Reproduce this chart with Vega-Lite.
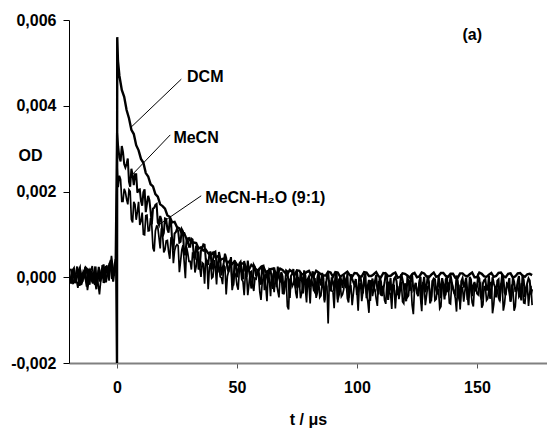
{
"$schema":"https://vega.github.io/schema/vega-lite/v6.json",
"width":478,"height":343,
"autosize":{"type":"none"},
"padding":{"left":69,"top":20,"right":0,"bottom":65},
"config":{"font":"Liberation Sans","view":{"stroke":null},"axis":{"grid":false}},
"datasets":{
"traces":[
{"s":"DCM","t":-20,"v":0.00008},{"s":"DCM","t":-19,"v":-0.00012},{"s":"DCM","t":-18,"v":0.0002},{"s":"DCM","t":-17,"v":-0.00005},{"s":"DCM","t":-16,"v":0.00015},{"s":"DCM","t":-15,"v":-0.00018},{"s":"DCM","t":-14,"v":0.0001},{"s":"DCM","t":-13,"v":0.00022},{"s":"DCM","t":-12,"v":-0.00008},{"s":"DCM","t":-11,"v":0.00014},{"s":"DCM","t":-10,"v":-0.00015},{"s":"DCM","t":-9,"v":0.00025},{"s":"DCM","t":-8,"v":0.00002},{"s":"DCM","t":-7,"v":-0.0001},{"s":"DCM","t":-6,"v":0.00028},{"s":"DCM","t":-5,"v":-0.00006},{"s":"DCM","t":-4,"v":0.00018},{"s":"DCM","t":-3,"v":0.00032},{"s":"DCM","t":-2,"v":-0.00004},{"s":"DCM","t":-1,"v":0.00026},{"s":"DCM","t":-0.3,"v":0.0001},
{"s":"DCM","t":-19.5,"v":-0.0001},{"s":"DCM","t":-18.5,"v":0.00016},{"s":"DCM","t":-17.5,"v":-0.00014},{"s":"DCM","t":-16.5,"v":0.00006},{"s":"DCM","t":-15.5,"v":0.00021},{"s":"DCM","t":-14.5,"v":-0.00009},{"s":"DCM","t":-13.5,"v":0.00003},{"s":"DCM","t":-12.5,"v":0.00019},{"s":"DCM","t":-11.5,"v":-0.00017},{"s":"DCM","t":-10.5,"v":0.00009},{"s":"DCM","t":-9.5,"v":0.00004},{"s":"DCM","t":-8.5,"v":-0.00021},{"s":"DCM","t":-7.5,"v":0.00017},{"s":"DCM","t":-6.5,"v":0.00001},{"s":"DCM","t":-5.5,"v":-0.00013},{"s":"DCM","t":-4.5,"v":0.00026},{"s":"DCM","t":-3.5,"v":0.00005},{"s":"DCM","t":-2.5,"v":0.00035},{"s":"DCM","t":-1.5,"v":0.00008},{"s":"DCM","t":-0.5,"v":0.00042},
{"s":"DCM","t":0,"v":-0.002},{"s":"DCM","t":0.1,"v":0.0056},{"s":"DCM","t":0.4,"v":0.00505},
{"s":"DCM","t":1,"v":0.0047},{"s":"DCM","t":2,"v":0.00437},{"s":"DCM","t":3,"v":0.00421},{"s":"DCM","t":4,"v":0.0039},{"s":"DCM","t":5,"v":0.00371},{"s":"DCM","t":6,"v":0.00344},{"s":"DCM","t":7,"v":0.00334},{"s":"DCM","t":8,"v":0.00308},{"s":"DCM","t":9,"v":0.00296},{"s":"DCM","t":10,"v":0.00276},{"s":"DCM","t":11,"v":0.00267},{"s":"DCM","t":12,"v":0.00243},{"s":"DCM","t":13,"v":0.00235},{"s":"DCM","t":14,"v":0.00217},{"s":"DCM","t":15,"v":0.00212},{"s":"DCM","t":16,"v":0.00194},{"s":"DCM","t":17,"v":0.00188},{"s":"DCM","t":18,"v":0.0017},{"s":"DCM","t":19,"v":0.00166},{"s":"DCM","t":20,"v":0.0016},{"s":"DCM","t":21,"v":0.00144},{"s":"DCM","t":22,"v":0.00141},{"s":"DCM","t":23,"v":0.00128},{"s":"DCM","t":24,"v":0.00129},{"s":"DCM","t":25,"v":0.00117},{"s":"DCM","t":26,"v":0.00114},{"s":"DCM","t":27,"v":0.00103},{"s":"DCM","t":28,"v":0.00103},{"s":"DCM","t":29,"v":0.00089},{"s":"DCM","t":30,"v":0.00091},{"s":"DCM","t":31,"v":0.00081},{"s":"DCM","t":32,"v":0.00081},{"s":"DCM","t":33,"v":0.0008},{"s":"DCM","t":34,"v":0.00067},{"s":"DCM","t":35,"v":0.0007},{"s":"DCM","t":36,"v":0.00062},{"s":"DCM","t":37,"v":0.00064},{"s":"DCM","t":38,"v":0.00056},{"s":"DCM","t":39,"v":0.00051},{"s":"DCM","t":40,"v":0.00057},{"s":"DCM","t":41,"v":0.00047},{"s":"DCM","t":42,"v":0.00049},{"s":"DCM","t":43,"v":0.0004},{"s":"DCM","t":44,"v":0.00043},{"s":"DCM","t":45,"v":0.00044},{"s":"DCM","t":46,"v":0.00033},{"s":"DCM","t":47,"v":0.00038},{"s":"DCM","t":48,"v":0.00031},{"s":"DCM","t":49,"v":0.00037},{"s":"DCM","t":50,"v":0.0003},
{"s":"DCM","t":52,"v":0.00032},{"s":"DCM","t":54,"v":0.0002},{"s":"DCM","t":56,"v":0.00029},{"s":"DCM","t":58,"v":0.00018},{"s":"DCM","t":60,"v":0.00024},{"s":"DCM","t":62,"v":0.00012},{"s":"DCM","t":64,"v":0.00019},{"s":"DCM","t":66,"v":0.00011},{"s":"DCM","t":68,"v":0.0002},{"s":"DCM","t":70,"v":0.00011},{"s":"DCM","t":72,"v":0.00017},{"s":"DCM","t":74,"v":0.00005},{"s":"DCM","t":76,"v":0.00015},{"s":"DCM","t":78,"v":0.00007},{"s":"DCM","t":80,"v":0.00015},{"s":"DCM","t":82,"v":0.00004},{"s":"DCM","t":84,"v":0.00011},{"s":"DCM","t":86,"v":0.00004},{"s":"DCM","t":88,"v":0.00013},{"s":"DCM","t":90,"v":0.00001},{"s":"DCM","t":92,"v":0.00011},{"s":"DCM","t":94,"v":0.00005},{"s":"DCM","t":96,"v":0.00013},{"s":"DCM","t":98,"v":0.00001},{"s":"DCM","t":100,"v":0.00009},{"s":"DCM","t":102,"v":0.00002},{"s":"DCM","t":104,"v":0.00011},{"s":"DCM","t":106,"v":0.00003},{"s":"DCM","t":108,"v":0.00012},{"s":"DCM","t":110,"v":0},{"s":"DCM","t":112,"v":0.00009},{"s":"DCM","t":114,"v":0.00003},{"s":"DCM","t":116,"v":0.00011},{"s":"DCM","t":118,"v":0.00001},{"s":"DCM","t":120,"v":0.00008},{"s":"DCM","t":122,"v":-0.00001},{"s":"DCM","t":124,"v":0.0001},{"s":"DCM","t":126,"v":0.00002},{"s":"DCM","t":128,"v":0.00009},{"s":"DCM","t":130,"v":0},{"s":"DCM","t":132,"v":0.00011},{"s":"DCM","t":134,"v":0.00003},{"s":"DCM","t":136,"v":0.0001},{"s":"DCM","t":138,"v":0.00001},{"s":"DCM","t":140,"v":0.00008},{"s":"DCM","t":142,"v":-0.00001},{"s":"DCM","t":144,"v":0.00009},{"s":"DCM","t":146,"v":0.00002},{"s":"DCM","t":148,"v":0.00011},{"s":"DCM","t":150,"v":0},{"s":"DCM","t":152,"v":0.00008},{"s":"DCM","t":154,"v":0.00001},{"s":"DCM","t":156,"v":0.0001},{"s":"DCM","t":158,"v":0.00003},{"s":"DCM","t":160,"v":0.00011},{"s":"DCM","t":162,"v":0},{"s":"DCM","t":164,"v":0.00009},{"s":"DCM","t":166,"v":0.00002},{"s":"DCM","t":168,"v":0.0001},{"s":"DCM","t":170,"v":0.00001},{"s":"DCM","t":172,"v":0.00008},{"s":"DCM","t":173,"v":0.00005},
{"s":"DCM","t":51,"v":0.00026},{"s":"DCM","t":53,"v":0.00032},{"s":"DCM","t":55,"v":0.00018},{"s":"DCM","t":57,"v":0.00024},{"s":"DCM","t":59,"v":0.00016},{"s":"DCM","t":61,"v":0.00025},{"s":"DCM","t":63,"v":0.00015},{"s":"DCM","t":65,"v":0.0002},{"s":"DCM","t":67,"v":0.0001},{"s":"DCM","t":69,"v":0.00017},{"s":"DCM","t":71,"v":0.00007},{"s":"DCM","t":73,"v":0.00013},{"s":"DCM","t":75,"v":0.00016},{"s":"DCM","t":77,"v":0.00007},{"s":"DCM","t":79,"v":0.00012},{"s":"DCM","t":81,"v":0.00004},{"s":"DCM","t":83,"v":0.00015},{"s":"DCM","t":85,"v":0.00007},{"s":"DCM","t":87,"v":0.00004},{"s":"DCM","t":89,"v":0.00011},{"s":"DCM","t":91,"v":0.00012},{"s":"DCM","t":93,"v":0.00001},{"s":"DCM","t":95,"v":0.00009},{"s":"DCM","t":97,"v":0.00005},{"s":"DCM","t":99,"v":0.0001},{"s":"DCM","t":101,"v":0.00001},{"s":"DCM","t":103,"v":0.00012},{"s":"DCM","t":105,"v":0.00003},{"s":"DCM","t":107,"v":0.00007},{"s":"DCM","t":109,"v":0.00002},{"s":"DCM","t":111,"v":0.0001},{"s":"DCM","t":113,"v":0.00003},{"s":"DCM","t":115,"v":0.00008},{"s":"DCM","t":117,"v":-0.00001},{"s":"DCM","t":119,"v":0.00009},{"s":"DCM","t":121,"v":0.00004},{"s":"DCM","t":123,"v":0.00007},{"s":"DCM","t":125,"v":0},{"s":"DCM","t":127,"v":0.00011},{"s":"DCM","t":129,"v":0.00002},{"s":"DCM","t":131,"v":0.00006},{"s":"DCM","t":133,"v":0.00001},{"s":"DCM","t":135,"v":0.0001},{"s":"DCM","t":137,"v":0.00003},{"s":"DCM","t":139,"v":0.00008},{"s":"DCM","t":141,"v":-0.00001},{"s":"DCM","t":143,"v":0.00009},{"s":"DCM","t":145,"v":0.00004},{"s":"DCM","t":147,"v":0.00007},{"s":"DCM","t":149,"v":0},{"s":"DCM","t":151,"v":0.00011},{"s":"DCM","t":153,"v":0.00002},{"s":"DCM","t":155,"v":0.00006},{"s":"DCM","t":157,"v":0.00001},{"s":"DCM","t":159,"v":0.0001},{"s":"DCM","t":161,"v":0.00003},{"s":"DCM","t":163,"v":0.00008},{"s":"DCM","t":165,"v":-0.00001},{"s":"DCM","t":167,"v":0.00009},{"s":"DCM","t":169,"v":0.00004},{"s":"DCM","t":171,"v":0.00007},
{"s":"MeCN","t":-19.6,"v":-0.00015},{"s":"MeCN","t":-18.6,"v":0.00018},{"s":"MeCN","t":-17.6,"v":-0.00008},{"s":"MeCN","t":-16.6,"v":0.00025},{"s":"MeCN","t":-15.6,"v":-0.0002},{"s":"MeCN","t":-14.6,"v":0.00006},{"s":"MeCN","t":-13.6,"v":0.00015},{"s":"MeCN","t":-12.6,"v":-0.00022},{"s":"MeCN","t":-11.6,"v":0.0002},{"s":"MeCN","t":-10.6,"v":-0.00005},{"s":"MeCN","t":-9.6,"v":0.00012},{"s":"MeCN","t":-8.6,"v":-0.00028},{"s":"MeCN","t":-7.6,"v":0.00024},{"s":"MeCN","t":-6.6,"v":-0.00002},{"s":"MeCN","t":-5.6,"v":0.0003},{"s":"MeCN","t":-4.6,"v":-0.00012},{"s":"MeCN","t":-3.6,"v":0.00022},{"s":"MeCN","t":-2.6,"v":0.0004},{"s":"MeCN","t":-1.6,"v":-0.0001},{"s":"MeCN","t":-0.6,"v":0.00035},
{"s":"MeCN","t":0,"v":0.00338},{"s":"MeCN","t":0.5,"v":0.00305},
{"s":"MeCN","t":1,"v":0.00279},{"s":"MeCN","t":2,"v":0.00306},{"s":"MeCN","t":3,"v":0.00264},{"s":"MeCN","t":4,"v":0.00264},{"s":"MeCN","t":5,"v":0.00223},{"s":"MeCN","t":6,"v":0.00253},{"s":"MeCN","t":7,"v":0.00215},{"s":"MeCN","t":8,"v":0.0024},{"s":"MeCN","t":9,"v":0.00204},{"s":"MeCN","t":10,"v":0.00178},{"s":"MeCN","t":11,"v":0.00198},{"s":"MeCN","t":12,"v":0.00152},{"s":"MeCN","t":13,"v":0.0019},{"s":"MeCN","t":14,"v":0.00154},{"s":"MeCN","t":15,"v":0.0016},{"s":"MeCN","t":16,"v":0.00169},{"s":"MeCN","t":17,"v":0.00128},{"s":"MeCN","t":18,"v":0.00143},{"s":"MeCN","t":19,"v":0.00095},{"s":"MeCN","t":20,"v":0.00137},{"s":"MeCN","t":21,"v":0.00112},{"s":"MeCN","t":22,"v":0.00133},{"s":"MeCN","t":23,"v":0.00085},{"s":"MeCN","t":24,"v":0.00102},{"s":"MeCN","t":25,"v":0.00113},{"s":"MeCN","t":26,"v":0.00081},{"s":"MeCN","t":27,"v":0.00112},{"s":"MeCN","t":28,"v":0.00053},{"s":"MeCN","t":29,"v":0.00087},{"s":"MeCN","t":30,"v":0.00071},{"s":"MeCN","t":31,"v":0.0009},{"s":"MeCN","t":32,"v":0.0005},{"s":"MeCN","t":33,"v":0.00074},{"s":"MeCN","t":34,"v":0.00018},{"s":"MeCN","t":35,"v":0.00063},{"s":"MeCN","t":36,"v":0.00077},{"s":"MeCN","t":37,"v":0.00042},{"s":"MeCN","t":38,"v":0.00029},{"s":"MeCN","t":39,"v":0.0006},{"s":"MeCN","t":40,"v":0.0004},{"s":"MeCN","t":41,"v":0.0006},{"s":"MeCN","t":42,"v":0.00011},{"s":"MeCN","t":43,"v":0.00045},{"s":"MeCN","t":44,"v":0.0002},{"s":"MeCN","t":45,"v":0.00055},{"s":"MeCN","t":46,"v":0.00021},{"s":"MeCN","t":47,"v":0.00031},{"s":"MeCN","t":48,"v":-0.00008},{"s":"MeCN","t":49,"v":0.00039},{"s":"MeCN","t":50,"v":0},{"s":"MeCN","t":51,"v":0.00032},{"s":"MeCN","t":52,"v":0.00013},{"s":"MeCN","t":53,"v":0.00038},{"s":"MeCN","t":54,"v":0.00001},{"s":"MeCN","t":55,"v":0.00015},{"s":"MeCN","t":56,"v":-0.00026},{"s":"MeCN","t":57,"v":0.00029},{"s":"MeCN","t":58,"v":0.00002},{"s":"MeCN","t":59,"v":0.00017},{"s":"MeCN","t":60,"v":-0.00017},{"s":"MeCN","t":61,"v":0.00027},{"s":"MeCN","t":62,"v":0.00004},{"s":"MeCN","t":63,"v":-0.00012},{"s":"MeCN","t":64,"v":0.00017},{"s":"MeCN","t":65,"v":-0.00027},{"s":"MeCN","t":66,"v":0.00008},{"s":"MeCN","t":67,"v":0.00025},{"s":"MeCN","t":68,"v":-0.00012},{"s":"MeCN","t":69,"v":0.00002},{"s":"MeCN","t":70,"v":-0.00022},{"s":"MeCN","t":71,"v":0.00014},{"s":"MeCN","t":72,"v":-0.00048},{"s":"MeCN","t":73,"v":0.00008},{"s":"MeCN","t":74,"v":-0.00011},{"s":"MeCN","t":75,"v":0.00014},{"s":"MeCN","t":76,"v":-0.00024},{"s":"MeCN","t":77,"v":-0.00001},{"s":"MeCN","t":78,"v":0.00016},{"s":"MeCN","t":79,"v":-0.00034},{"s":"MeCN","t":80,"v":0.00002},{"s":"MeCN","t":81,"v":-0.00011},{"s":"MeCN","t":82,"v":0.00006},{"s":"MeCN","t":83,"v":-0.0004},{"s":"MeCN","t":84,"v":0.00011},{"s":"MeCN","t":85,"v":-0.00019},{"s":"MeCN","t":86,"v":-0.00002},{"s":"MeCN","t":87,"v":-0.00025},{"s":"MeCN","t":88,"v":0.00013},{"s":"MeCN","t":89,"v":-0.00033},{"s":"MeCN","t":90,"v":-0.00011},{"s":"MeCN","t":91,"v":0.00001},{"s":"MeCN","t":92,"v":-0.00052},{"s":"MeCN","t":93,"v":0.00003},{"s":"MeCN","t":94,"v":-0.00025},{"s":"MeCN","t":95,"v":-0.00007},{"s":"MeCN","t":96,"v":0.00009},{"s":"MeCN","t":97,"v":-0.00033},{"s":"MeCN","t":98,"v":-0.00003},{"s":"MeCN","t":99,"v":-0.00018},{"s":"MeCN","t":100,"v":-0.00041},{"s":"MeCN","t":101,"v":0.00003},{"s":"MeCN","t":102,"v":-0.00023},{"s":"MeCN","t":103,"v":-0.00001},{"s":"MeCN","t":104,"v":-0.00049},{"s":"MeCN","t":105,"v":-0.00006},{"s":"MeCN","t":106,"v":-0.00014},{"s":"MeCN","t":107,"v":-0.00033},{"s":"MeCN","t":108,"v":0.00005},{"s":"MeCN","t":109,"v":-0.0004},{"s":"MeCN","t":110,"v":-0.0001},{"s":"MeCN","t":111,"v":-0.00027},{"s":"MeCN","t":112,"v":0.00008},{"s":"MeCN","t":113,"v":-0.00053},{"s":"MeCN","t":114,"v":-0.00002},{"s":"MeCN","t":115,"v":-0.00023},{"s":"MeCN","t":116,"v":0.00001},{"s":"MeCN","t":117,"v":-0.00039},{"s":"MeCN","t":118,"v":-0.00014},{"s":"MeCN","t":119,"v":-0.00006},{"s":"MeCN","t":120,"v":-0.00046},{"s":"MeCN","t":121,"v":-0.00002},{"s":"MeCN","t":122,"v":-0.00032},{"s":"MeCN","t":123,"v":0.00004},{"s":"MeCN","t":124,"v":-0.00025},{"s":"MeCN","t":125,"v":-0.00037},{"s":"MeCN","t":126,"v":-0.00009},{"s":"MeCN","t":127,"v":-0.00063},{"s":"MeCN","t":128,"v":0.00001},{"s":"MeCN","t":129,"v":-0.00021},{"s":"MeCN","t":130,"v":-0.00011},{"s":"MeCN","t":131,"v":-0.00044},{"s":"MeCN","t":132,"v":-0.00003},{"s":"MeCN","t":133,"v":-0.0003},{"s":"MeCN","t":134,"v":0.00003},{"s":"MeCN","t":135,"v":-0.00049},{"s":"MeCN","t":136,"v":-0.00016},{"s":"MeCN","t":137,"v":-0.00005},{"s":"MeCN","t":138,"v":-0.00035},{"s":"MeCN","t":139,"v":0.00005},{"s":"MeCN","t":140,"v":-0.00026},{"s":"MeCN","t":141,"v":-0.0004},{"s":"MeCN","t":142,"v":-0.00009},{"s":"MeCN","t":143,"v":-0.00059},{"s":"MeCN","t":144,"v":-0.00002},{"s":"MeCN","t":145,"v":-0.00015},{"s":"MeCN","t":146,"v":-0.00034},{"s":"MeCN","t":147,"v":0.00001},{"s":"MeCN","t":148,"v":-0.00044},{"s":"MeCN","t":149,"v":-0.00011},{"s":"MeCN","t":150,"v":-0.00023},{"s":"MeCN","t":151,"v":-0.00003},{"s":"MeCN","t":152,"v":-0.00052},{"s":"MeCN","t":153,"v":-0.00007},{"s":"MeCN","t":154,"v":-0.00029},{"s":"MeCN","t":155,"v":0.00003},{"s":"MeCN","t":156,"v":-0.00039},{"s":"MeCN","t":157,"v":-0.00014},{"s":"MeCN","t":158,"v":-0.00047},{"s":"MeCN","t":159,"v":-0.00005},{"s":"MeCN","t":160,"v":-0.00021},{"s":"MeCN","t":161,"v":0},{"s":"MeCN","t":162,"v":-0.00042},{"s":"MeCN","t":163,"v":-0.00018},{"s":"MeCN","t":164,"v":-0.00057},{"s":"MeCN","t":165,"v":-0.00001},{"s":"MeCN","t":166,"v":-0.00032},{"s":"MeCN","t":167,"v":-0.0001},{"s":"MeCN","t":168,"v":-0.00035},{"s":"MeCN","t":169,"v":0.00005},{"s":"MeCN","t":170,"v":-0.00046},{"s":"MeCN","t":171,"v":-0.00013},{"s":"MeCN","t":172,"v":-0.00008},{"s":"MeCN","t":173,"v":-0.00028},
{"s":"MeCN","t":1.5,"v":0.0027},{"s":"MeCN","t":2.5,"v":0.00292},{"s":"MeCN","t":3.5,"v":0.00256},{"s":"MeCN","t":4.5,"v":0.00277},{"s":"MeCN","t":5.5,"v":0.00211},{"s":"MeCN","t":6.5,"v":0.00238},{"s":"MeCN","t":7.5,"v":0.0024},{"s":"MeCN","t":8.5,"v":0.00197},{"s":"MeCN","t":9.5,"v":0.00205},{"s":"MeCN","t":10.5,"v":0.00167},{"s":"MeCN","t":11.5,"v":0.00205},{"s":"MeCN","t":12.5,"v":0.00172},{"s":"MeCN","t":13.5,"v":0.0018},{"s":"MeCN","t":14.5,"v":0.00123},{"s":"MeCN","t":15.5,"v":0.00162},{"s":"MeCN","t":16.5,"v":0.00171},{"s":"MeCN","t":17.5,"v":0.00122},{"s":"MeCN","t":18.5,"v":0.00134},{"s":"MeCN","t":19.5,"v":0.00103},{"s":"MeCN","t":20.5,"v":0.00136},{"s":"MeCN","t":21.5,"v":0.00104},{"s":"MeCN","t":22.5,"v":0.00129},{"s":"MeCN","t":23.5,"v":0.00063},{"s":"MeCN","t":24.5,"v":0.00105},{"s":"MeCN","t":25.5,"v":0.00108},{"s":"MeCN","t":26.5,"v":0.00083},{"s":"MeCN","t":27.5,"v":0.00107},{"s":"MeCN","t":28.5,"v":0.00053},{"s":"MeCN","t":29.5,"v":0.00087},{"s":"MeCN","t":30.5,"v":0.00071},{"s":"MeCN","t":31.5,"v":0.00088},{"s":"MeCN","t":32.5,"v":0.00046},{"s":"MeCN","t":33.5,"v":0.00066},{"s":"MeCN","t":34.5,"v":0.00024},{"s":"MeCN","t":35.5,"v":0.00068},{"s":"MeCN","t":36.5,"v":0.00076},{"s":"MeCN","t":37.5,"v":0.00037},{"s":"MeCN","t":38.5,"v":0.00054},{"s":"MeCN","t":39.5,"v":0.00018},{"s":"MeCN","t":40.5,"v":0.00058},{"s":"MeCN","t":41.5,"v":0.0003},{"s":"MeCN","t":42.5,"v":0.00059},{"s":"MeCN","t":43.5,"v":0.00004},{"s":"MeCN","t":44.5,"v":0.00034},{"s":"MeCN","t":45.5,"v":0.00045},{"s":"MeCN","t":46.5,"v":0.00012},{"s":"MeCN","t":47.5,"v":0.00047},{"s":"MeCN","t":48.5,"v":-0.00019},{"s":"MeCN","t":49.5,"v":0.00033},{"s":"MeCN","t":50.5,"v":0.00017},{"s":"MeCN","t":51.5,"v":0.00036},{"s":"MeCN","t":52.5,"v":-0.00005},{"s":"MeCN","t":53.5,"v":0.00021},{"s":"MeCN","t":54.5,"v":0.00039},{"s":"MeCN","t":55.5,"v":0},{"s":"MeCN","t":56.5,"v":-0.00015},{"s":"MeCN","t":57.5,"v":0.00024},{"s":"MeCN","t":58.5,"v":0.00012},{"s":"MeCN","t":59.5,"v":-0.0001},{"s":"MeCN","t":60.5,"v":0.00026},{"s":"MeCN","t":61.5,"v":-0.0003},{"s":"MeCN","t":62.5,"v":0.00013},{"s":"MeCN","t":63.5,"v":0.00019},{"s":"MeCN","t":64.5,"v":-0.00004},{"s":"MeCN","t":65.5,"v":0.00023},{"s":"MeCN","t":66.5,"v":-0.00023},{"s":"MeCN","t":67.5,"v":0},{"s":"MeCN","t":68.5,"v":0.00012},{"s":"MeCN","t":69.5,"v":-0.0004},{"s":"MeCN","t":70.5,"v":0.00016},{"s":"MeCN","t":71.5,"v":-0.00013},{"s":"MeCN","t":72.5,"v":0.00003},{"s":"MeCN","t":73.5,"v":0.00019},{"s":"MeCN","t":74.5,"v":-0.00026},{"s":"MeCN","t":75.5,"v":-0.0001},{"s":"MeCN","t":76.5,"v":0.00011},{"s":"MeCN","t":77.5,"v":-0.00038},{"s":"MeCN","t":78.5,"v":0.00004},{"s":"MeCN","t":79.5,"v":-0.00004},{"s":"MeCN","t":80.5,"v":-0.00023},{"s":"MeCN","t":81.5,"v":0.00014},{"s":"MeCN","t":82.5,"v":-0.00035},{"s":"MeCN","t":83.5,"v":-0.00001},{"s":"MeCN","t":84.5,"v":-0.0001},{"s":"MeCN","t":85.5,"v":0.0001},{"s":"MeCN","t":86.5,"v":-0.00054},{"s":"MeCN","t":87.5,"v":0.00003},{"s":"MeCN","t":88.5,"v":-0.0002},{"s":"MeCN","t":89.5,"v":0},{"s":"MeCN","t":90.5,"v":-0.00032},{"s":"MeCN","t":91.5,"v":0.00013},{"s":"MeCN","t":92.5,"v":-0.00041},{"s":"MeCN","t":93.5,"v":-0.00008},{"s":"MeCN","t":94.5,"v":0.00005},{"s":"MeCN","t":95.5,"v":-0.00025},{"s":"MeCN","t":96.5,"v":-0.00048},{"s":"MeCN","t":97.5,"v":0.00007},{"s":"MeCN","t":98.5,"v":-0.00012},{"s":"MeCN","t":99.5,"v":-0.00004},{"s":"MeCN","t":100.5,"v":-0.00032},{"s":"MeCN","t":101.5,"v":0.00001},{"s":"MeCN","t":102.5,"v":-0.00038},{"s":"MeCN","t":103.5,"v":0.00009},{"s":"MeCN","t":104.5,"v":-0.00021},{"s":"MeCN","t":105.5,"v":-0.00055},{"s":"MeCN","t":106.5,"v":-0.00003},{"s":"MeCN","t":107.5,"v":-0.00009},{"s":"MeCN","t":108.5,"v":-0.0003},{"s":"MeCN","t":109.5,"v":0.00002},{"s":"MeCN","t":110.5,"v":-0.00044},{"s":"MeCN","t":111.5,"v":-0.00013},{"s":"MeCN","t":112.5,"v":0.00005},{"s":"MeCN","t":113.5,"v":-0.00025},{"s":"MeCN","t":114.5,"v":-0.00048},{"s":"MeCN","t":115.5,"v":-0.00003},{"s":"MeCN","t":116.5,"v":-0.00009},{"s":"MeCN","t":117.5,"v":-0.00037},{"s":"MeCN","t":118.5,"v":0.00007},{"s":"MeCN","t":119.5,"v":-0.00021},{"s":"MeCN","t":120.5,"v":-0.00056},{"s":"MeCN","t":121.5,"v":-0.00007},{"s":"MeCN","t":122.5,"v":-0.00001},{"s":"MeCN","t":123.5,"v":-0.0003},{"s":"MeCN","t":124.5,"v":-0.00013},{"s":"MeCN","t":125.5,"v":-0.00044},{"s":"MeCN","t":126.5,"v":0.00001},{"s":"MeCN","t":127.5,"v":-0.0002},{"s":"MeCN","t":128.5,"v":-0.00035},{"s":"MeCN","t":129.5,"v":0.00004},{"s":"MeCN","t":130.5,"v":-0.00061},{"s":"MeCN","t":131.5,"v":-0.00009},{"s":"MeCN","t":132.5,"v":-0.00005},{"s":"MeCN","t":133.5,"v":-0.0004},{"s":"MeCN","t":134.5,"v":-0.00016},{"s":"MeCN","t":135.5,"v":-0.00002},{"s":"MeCN","t":136.5,"v":-0.00052},{"s":"MeCN","t":137.5,"v":0.00002},{"s":"MeCN","t":138.5,"v":-0.00026},{"s":"MeCN","t":139.5,"v":-0.00011},{"s":"MeCN","t":140.5,"v":-0.00037},{"s":"MeCN","t":141.5,"v":0.00004},{"s":"MeCN","t":142.5,"v":-0.00048},{"s":"MeCN","t":143.5,"v":-0.00009},{"s":"MeCN","t":144.5,"v":-0.00024},{"s":"MeCN","t":145.5,"v":-0.00001},{"s":"MeCN","t":146.5,"v":-0.00065},{"s":"MeCN","t":147.5,"v":-0.00005},{"s":"MeCN","t":148.5,"v":-0.00019},{"s":"MeCN","t":149.5,"v":-0.00033},{"s":"MeCN","t":150.5,"v":0.00002},{"s":"MeCN","t":151.5,"v":-0.00044},{"s":"MeCN","t":152.5,"v":-0.00014},{"s":"MeCN","t":153.5,"v":-0.00004},{"s":"MeCN","t":154.5,"v":-0.00029},{"s":"MeCN","t":155.5,"v":-0.0005},{"s":"MeCN","t":156.5,"v":0},{"s":"MeCN","t":157.5,"v":-0.00022},{"s":"MeCN","t":158.5,"v":-0.00008},{"s":"MeCN","t":159.5,"v":-0.00056},{"s":"MeCN","t":160.5,"v":0.00005},{"s":"MeCN","t":161.5,"v":-0.00035},{"s":"MeCN","t":162.5,"v":-0.00015},{"s":"MeCN","t":163.5,"v":-0.00002},{"s":"MeCN","t":164.5,"v":-0.00042},{"s":"MeCN","t":165.5,"v":-0.00011},{"s":"MeCN","t":166.5,"v":-0.00031},{"s":"MeCN","t":167.5,"v":0.00003},{"s":"MeCN","t":168.5,"v":-0.00054},{"s":"MeCN","t":169.5,"v":-0.00007},{"s":"MeCN","t":170.5,"v":-0.00025},{"s":"MeCN","t":171.5,"v":-0.00003},{"s":"MeCN","t":172.5,"v":-0.0004},
{"s":"MeCN-H2O","t":-19.3,"v":0.0002},{"s":"MeCN-H2O","t":-18.3,"v":-0.00016},{"s":"MeCN-H2O","t":-17.3,"v":0.00005},{"s":"MeCN-H2O","t":-16.3,"v":-0.00025},{"s":"MeCN-H2O","t":-15.3,"v":0.00018},{"s":"MeCN-H2O","t":-14.3,"v":-0.0001},{"s":"MeCN-H2O","t":-13.3,"v":0.00024},{"s":"MeCN-H2O","t":-12.3,"v":-0.0003},{"s":"MeCN-H2O","t":-11.3,"v":0.00009},{"s":"MeCN-H2O","t":-10.3,"v":0.00026},{"s":"MeCN-H2O","t":-9.3,"v":-0.00018},{"s":"MeCN-H2O","t":-8.3,"v":0.00003},{"s":"MeCN-H2O","t":-7.3,"v":-0.0004},{"s":"MeCN-H2O","t":-6.3,"v":0.00021},{"s":"MeCN-H2O","t":-5.3,"v":-0.00012},{"s":"MeCN-H2O","t":-4.3,"v":0.00028},{"s":"MeCN-H2O","t":-3.3,"v":-0.00008},{"s":"MeCN-H2O","t":-2.3,"v":0.0005},{"s":"MeCN-H2O","t":-1.3,"v":0.00004},{"s":"MeCN-H2O","t":-0.3,"v":0.00038},
{"s":"MeCN-H2O","t":0,"v":0.00262},{"s":"MeCN-H2O","t":0.5,"v":0.0021},
{"s":"MeCN-H2O","t":1,"v":0.00237},{"s":"MeCN-H2O","t":2,"v":0.00177},{"s":"MeCN-H2O","t":3,"v":0.00206},{"s":"MeCN-H2O","t":4,"v":0.00182},{"s":"MeCN-H2O","t":5,"v":0.00204},{"s":"MeCN-H2O","t":6,"v":0.00135},{"s":"MeCN-H2O","t":7,"v":0.00176},{"s":"MeCN-H2O","t":8,"v":0.00134},{"s":"MeCN-H2O","t":9,"v":0.00176},{"s":"MeCN-H2O","t":10,"v":0.00131},{"s":"MeCN-H2O","t":11,"v":0.001},{"s":"MeCN-H2O","t":12,"v":0.00144},{"s":"MeCN-H2O","t":13,"v":0.00108},{"s":"MeCN-H2O","t":14,"v":0.00138},{"s":"MeCN-H2O","t":15,"v":0.00068},{"s":"MeCN-H2O","t":16,"v":0.00108},{"s":"MeCN-H2O","t":17,"v":0.00117},{"s":"MeCN-H2O","t":18,"v":0.00067},{"s":"MeCN-H2O","t":19,"v":0.00099},{"s":"MeCN-H2O","t":20,"v":0.00064},{"s":"MeCN-H2O","t":21,"v":0.00086},{"s":"MeCN-H2O","t":22,"v":0.00043},{"s":"MeCN-H2O","t":23,"v":0.0009},{"s":"MeCN-H2O","t":24,"v":0.00062},{"s":"MeCN-H2O","t":25,"v":0.00076},{"s":"MeCN-H2O","t":26,"v":0.00012},{"s":"MeCN-H2O","t":27,"v":0.00064},{"s":"MeCN-H2O","t":28,"v":0.00036},{"s":"MeCN-H2O","t":29,"v":0.0007},{"s":"MeCN-H2O","t":30,"v":0.00037},{"s":"MeCN-H2O","t":31,"v":0.00018},{"s":"MeCN-H2O","t":32,"v":0.00054},{"s":"MeCN-H2O","t":33,"v":0.00025},{"s":"MeCN-H2O","t":34,"v":0.00057},{"s":"MeCN-H2O","t":35,"v":0.00001},{"s":"MeCN-H2O","t":36,"v":0.00031},{"s":"MeCN-H2O","t":37,"v":0.00043},{"s":"MeCN-H2O","t":38,"v":-0.00028},{"s":"MeCN-H2O","t":39,"v":0.00033},{"s":"MeCN-H2O","t":40,"v":0.00001},{"s":"MeCN-H2O","t":41,"v":0.00022},{"s":"MeCN-H2O","t":42,"v":0.00035},{"s":"MeCN-H2O","t":43,"v":0.00001},{"s":"MeCN-H2O","t":44,"v":-0.00016},{"s":"MeCN-H2O","t":45,"v":0.00024},{"s":"MeCN-H2O","t":46,"v":0.00002},{"s":"MeCN-H2O","t":47,"v":0.00029},{"s":"MeCN-H2O","t":48,"v":-0.0003},{"s":"MeCN-H2O","t":49,"v":0.0001},{"s":"MeCN-H2O","t":50,"v":-0.00019},{"s":"MeCN-H2O","t":51,"v":0.00019},{"s":"MeCN-H2O","t":52,"v":-0.00005},{"s":"MeCN-H2O","t":53,"v":-0.00042},{"s":"MeCN-H2O","t":54,"v":0.00009},{"s":"MeCN-H2O","t":55,"v":-0.00016},{"s":"MeCN-H2O","t":56,"v":0.00014},{"s":"MeCN-H2O","t":57,"v":-0.00032},{"s":"MeCN-H2O","t":58,"v":-0.00004},{"s":"MeCN-H2O","t":59,"v":0.00008},{"s":"MeCN-H2O","t":60,"v":-0.00053},{"s":"MeCN-H2O","t":61,"v":0},{"s":"MeCN-H2O","t":62,"v":-0.0002},{"s":"MeCN-H2O","t":63,"v":0.00009},{"s":"MeCN-H2O","t":64,"v":-0.00044},{"s":"MeCN-H2O","t":65,"v":-0.00013},{"s":"MeCN-H2O","t":66,"v":0.00001},{"s":"MeCN-H2O","t":67,"v":-0.00032},{"s":"MeCN-H2O","t":68,"v":0.00007},{"s":"MeCN-H2O","t":69,"v":-0.00039},{"s":"MeCN-H2O","t":70,"v":-0.0001},{"s":"MeCN-H2O","t":71,"v":-0.00068},{"s":"MeCN-H2O","t":72,"v":-0.00005},{"s":"MeCN-H2O","t":73,"v":-0.00022},{"s":"MeCN-H2O","t":74,"v":-0.00001},{"s":"MeCN-H2O","t":75,"v":-0.00049},{"s":"MeCN-H2O","t":76,"v":-0.00012},{"s":"MeCN-H2O","t":77,"v":-0.00036},{"s":"MeCN-H2O","t":78,"v":-0.00001},{"s":"MeCN-H2O","t":79,"v":-0.00059},{"s":"MeCN-H2O","t":80,"v":-0.00018},{"s":"MeCN-H2O","t":81,"v":-0.00005},{"s":"MeCN-H2O","t":82,"v":-0.00033},{"s":"MeCN-H2O","t":83,"v":-0.00048},{"s":"MeCN-H2O","t":84,"v":-0.00001},{"s":"MeCN-H2O","t":85,"v":-0.00043},{"s":"MeCN-H2O","t":86,"v":-0.00024},{"s":"MeCN-H2O","t":87,"v":-0.0001},{"s":"MeCN-H2O","t":88,"v":-0.00108},{"s":"MeCN-H2O","t":89,"v":-0.00016},{"s":"MeCN-H2O","t":90,"v":-0.00033},{"s":"MeCN-H2O","t":91,"v":-0.00007},{"s":"MeCN-H2O","t":92,"v":-0.00059},{"s":"MeCN-H2O","t":93,"v":-0.00015},{"s":"MeCN-H2O","t":94,"v":-0.0004},{"s":"MeCN-H2O","t":95,"v":-0.00004},{"s":"MeCN-H2O","t":96,"v":-0.00049},{"s":"MeCN-H2O","t":97,"v":-0.00022},{"s":"MeCN-H2O","t":98,"v":-0.00065},{"s":"MeCN-H2O","t":99,"v":-0.00012},{"s":"MeCN-H2O","t":100,"v":-0.00033},{"s":"MeCN-H2O","t":101,"v":-0.00016},{"s":"MeCN-H2O","t":102,"v":-0.00056},{"s":"MeCN-H2O","t":103,"v":-0.00009},{"s":"MeCN-H2O","t":104,"v":-0.0004},{"s":"MeCN-H2O","t":105,"v":-0.00083},{"s":"MeCN-H2O","t":106,"v":-0.00014},{"s":"MeCN-H2O","t":107,"v":-0.00027},{"s":"MeCN-H2O","t":108,"v":-0.0005},{"s":"MeCN-H2O","t":109,"v":-0.00009},{"s":"MeCN-H2O","t":110,"v":-0.00043},{"s":"MeCN-H2O","t":111,"v":-0.00022},{"s":"MeCN-H2O","t":112,"v":-0.00062},{"s":"MeCN-H2O","t":113,"v":-0.00012},{"s":"MeCN-H2O","t":114,"v":-0.00038},{"s":"MeCN-H2O","t":115,"v":-0.00018},{"s":"MeCN-H2O","t":116,"v":-0.00073},{"s":"MeCN-H2O","t":117,"v":-0.00021},{"s":"MeCN-H2O","t":118,"v":-0.00032},{"s":"MeCN-H2O","t":119,"v":-0.00057},{"s":"MeCN-H2O","t":120,"v":-0.00014},{"s":"MeCN-H2O","t":121,"v":-0.00047},{"s":"MeCN-H2O","t":122,"v":-0.00009},{"s":"MeCN-H2O","t":123,"v":-0.00065},{"s":"MeCN-H2O","t":124,"v":-0.00025},{"s":"MeCN-H2O","t":125,"v":-0.00035},{"s":"MeCN-H2O","t":126,"v":-0.00012},{"s":"MeCN-H2O","t":127,"v":-0.00079},{"s":"MeCN-H2O","t":128,"v":-0.00017},{"s":"MeCN-H2O","t":129,"v":-0.00043},{"s":"MeCN-H2O","t":130,"v":-0.0002},{"s":"MeCN-H2O","t":131,"v":-0.00056},{"s":"MeCN-H2O","t":132,"v":-0.00009},{"s":"MeCN-H2O","t":133,"v":-0.00051},{"s":"MeCN-H2O","t":134,"v":-0.00029},{"s":"MeCN-H2O","t":135,"v":-0.00068},{"s":"MeCN-H2O","t":136,"v":-0.00016},{"s":"MeCN-H2O","t":137,"v":-0.00041},{"s":"MeCN-H2O","t":138,"v":-0.00012},{"s":"MeCN-H2O","t":139,"v":-0.00062},{"s":"MeCN-H2O","t":140,"v":-0.00023},{"s":"MeCN-H2O","t":141,"v":-0.00049},{"s":"MeCN-H2O","t":142,"v":-0.00014},{"s":"MeCN-H2O","t":143,"v":-0.00075},{"s":"MeCN-H2O","t":144,"v":-0.00025},{"s":"MeCN-H2O","t":145,"v":-0.00031},{"s":"MeCN-H2O","t":146,"v":-0.00053},{"s":"MeCN-H2O","t":147,"v":-0.0001},{"s":"MeCN-H2O","t":148,"v":-0.00059},{"s":"MeCN-H2O","t":149,"v":-0.0002},{"s":"MeCN-H2O","t":150,"v":-0.00038},{"s":"MeCN-H2O","t":151,"v":-0.00017},{"s":"MeCN-H2O","t":152,"v":-0.00071},{"s":"MeCN-H2O","t":153,"v":-0.00022},{"s":"MeCN-H2O","t":154,"v":-0.00054},{"s":"MeCN-H2O","t":155,"v":-0.00028},{"s":"MeCN-H2O","t":156,"v":-0.00012},{"s":"MeCN-H2O","t":157,"v":-0.00064},{"s":"MeCN-H2O","t":158,"v":-0.00025},{"s":"MeCN-H2O","t":159,"v":-0.00048},{"s":"MeCN-H2O","t":160,"v":-0.00016},{"s":"MeCN-H2O","t":161,"v":-0.00078},{"s":"MeCN-H2O","t":162,"v":-0.00031},{"s":"MeCN-H2O","t":163,"v":-0.0002},{"s":"MeCN-H2O","t":164,"v":-0.00056},{"s":"MeCN-H2O","t":165,"v":-0.00027},{"s":"MeCN-H2O","t":166,"v":-0.00068},{"s":"MeCN-H2O","t":167,"v":-0.00015},{"s":"MeCN-H2O","t":168,"v":-0.00041},{"s":"MeCN-H2O","t":169,"v":-0.00023},{"s":"MeCN-H2O","t":170,"v":-0.00061},{"s":"MeCN-H2O","t":171,"v":-0.00017},{"s":"MeCN-H2O","t":172,"v":-0.00036},{"s":"MeCN-H2O","t":173,"v":-0.00065},
{"s":"MeCN-H2O","t":1.5,"v":0.00228},{"s":"MeCN-H2O","t":2.5,"v":0.00177},{"s":"MeCN-H2O","t":3.5,"v":0.00199},{"s":"MeCN-H2O","t":4.5,"v":0.0017},{"s":"MeCN-H2O","t":5.5,"v":0.002},{"s":"MeCN-H2O","t":6.5,"v":0.00128},{"s":"MeCN-H2O","t":7.5,"v":0.0017},{"s":"MeCN-H2O","t":8.5,"v":0.00153},{"s":"MeCN-H2O","t":9.5,"v":0.00122},{"s":"MeCN-H2O","t":10.5,"v":0.00151},{"s":"MeCN-H2O","t":11.5,"v":0.00099},{"s":"MeCN-H2O","t":12.5,"v":0.00145},{"s":"MeCN-H2O","t":13.5,"v":0.00109},{"s":"MeCN-H2O","t":14.5,"v":0.00121},{"s":"MeCN-H2O","t":15.5,"v":0.0006},{"s":"MeCN-H2O","t":16.5,"v":0.00119},{"s":"MeCN-H2O","t":17.5,"v":0.00093},{"s":"MeCN-H2O","t":18.5,"v":0.00114},{"s":"MeCN-H2O","t":19.5,"v":0.00058},{"s":"MeCN-H2O","t":20.5,"v":0.00085},{"s":"MeCN-H2O","t":21.5,"v":0.0006},{"s":"MeCN-H2O","t":22.5,"v":0.00091},{"s":"MeCN-H2O","t":23.5,"v":0.00033},{"s":"MeCN-H2O","t":24.5,"v":0.00072},{"s":"MeCN-H2O","t":25.5,"v":0.00073},{"s":"MeCN-H2O","t":26.5,"v":0.00037},{"s":"MeCN-H2O","t":27.5,"v":0.00075},{"s":"MeCN-H2O","t":28.5,"v":-0.00002},{"s":"MeCN-H2O","t":29.5,"v":0.00056},{"s":"MeCN-H2O","t":30.5,"v":0.00037},{"s":"MeCN-H2O","t":31.5,"v":0.00056},{"s":"MeCN-H2O","t":32.5,"v":0.00011},{"s":"MeCN-H2O","t":33.5,"v":0.00054},{"s":"MeCN-H2O","t":34.5,"v":0.00022},{"s":"MeCN-H2O","t":35.5,"v":0.00034},{"s":"MeCN-H2O","t":36.5,"v":-0.00015},{"s":"MeCN-H2O","t":37.5,"v":0.00039},{"s":"MeCN-H2O","t":38.5,"v":0.00023},{"s":"MeCN-H2O","t":39.5,"v":-0.00002},{"s":"MeCN-H2O","t":40.5,"v":0.0004},{"s":"MeCN-H2O","t":41.5,"v":-0.00017},{"s":"MeCN-H2O","t":42.5,"v":0.00026},{"s":"MeCN-H2O","t":43.5,"v":-0.00001},{"s":"MeCN-H2O","t":44.5,"v":0.00028},{"s":"MeCN-H2O","t":45.5,"v":-0.0004},{"s":"MeCN-H2O","t":46.5,"v":0.00014},{"s":"MeCN-H2O","t":47.5,"v":0.00026},{"s":"MeCN-H2O","t":48.5,"v":-0.00014},{"s":"MeCN-H2O","t":49.5,"v":0.00005},{"s":"MeCN-H2O","t":50.5,"v":-0.00029},{"s":"MeCN-H2O","t":51.5,"v":0.00023},{"s":"MeCN-H2O","t":52.5,"v":-0.0001},{"s":"MeCN-H2O","t":53.5,"v":0.00008},{"s":"MeCN-H2O","t":54.5,"v":-0.00042},{"s":"MeCN-H2O","t":55.5,"v":0.00012},{"s":"MeCN-H2O","t":56.5,"v":-0.00018},{"s":"MeCN-H2O","t":57.5,"v":-0.00002},{"s":"MeCN-H2O","t":58.5,"v":0.00012},{"s":"MeCN-H2O","t":59.5,"v":-0.00034},{"s":"MeCN-H2O","t":60.5,"v":-0.00013},{"s":"MeCN-H2O","t":61.5,"v":0.00003},{"s":"MeCN-H2O","t":62.5,"v":-0.00056},{"s":"MeCN-H2O","t":63.5,"v":-0.00005},{"s":"MeCN-H2O","t":64.5,"v":0.00009},{"s":"MeCN-H2O","t":65.5,"v":-0.00035},{"s":"MeCN-H2O","t":66.5,"v":-0.00014},{"s":"MeCN-H2O","t":67.5,"v":-0.00047},{"s":"MeCN-H2O","t":68.5,"v":0.00002},{"s":"MeCN-H2O","t":69.5,"v":-0.00026},{"s":"MeCN-H2O","t":70.5,"v":-0.00006},{"s":"MeCN-H2O","t":71.5,"v":-0.00075},{"s":"MeCN-H2O","t":72.5,"v":-0.00004},{"s":"MeCN-H2O","t":73.5,"v":-0.00016},{"s":"MeCN-H2O","t":74.5,"v":-0.00036},{"s":"MeCN-H2O","t":75.5,"v":0},{"s":"MeCN-H2O","t":76.5,"v":-0.00049},{"s":"MeCN-H2O","t":77.5,"v":-0.00014},{"s":"MeCN-H2O","t":78.5,"v":-0.00027},{"s":"MeCN-H2O","t":79.5,"v":-0.00006},{"s":"MeCN-H2O","t":80.5,"v":-0.00061},{"s":"MeCN-H2O","t":81.5,"v":-0.00014},{"s":"MeCN-H2O","t":82.5,"v":-0.00002},{"s":"MeCN-H2O","t":83.5,"v":-0.00036},{"s":"MeCN-H2O","t":84.5,"v":-0.00047},{"s":"MeCN-H2O","t":85.5,"v":-0.0001},{"s":"MeCN-H2O","t":86.5,"v":-0.00059},{"s":"MeCN-H2O","t":87.5,"v":-0.00021},{"s":"MeCN-H2O","t":88.5,"v":-0.00007},{"s":"MeCN-H2O","t":89.5,"v":-0.00032},{"s":"MeCN-H2O","t":90.5,"v":-0.00072},{"s":"MeCN-H2O","t":91.5,"v":-0.00015},{"s":"MeCN-H2O","t":92.5,"v":-0.00003},{"s":"MeCN-H2O","t":93.5,"v":-0.00045},{"s":"MeCN-H2O","t":94.5,"v":-0.00028},{"s":"MeCN-H2O","t":95.5,"v":-0.0001},{"s":"MeCN-H2O","t":96.5,"v":-0.00059},{"s":"MeCN-H2O","t":97.5,"v":-0.00021},{"s":"MeCN-H2O","t":98.5,"v":-0.00038},{"s":"MeCN-H2O","t":99.5,"v":-0.00009},{"s":"MeCN-H2O","t":100.5,"v":-0.00078},{"s":"MeCN-H2O","t":101.5,"v":-0.00015},{"s":"MeCN-H2O","t":102.5,"v":-0.00033},{"s":"MeCN-H2O","t":103.5,"v":-0.00019},{"s":"MeCN-H2O","t":104.5,"v":-0.00055},{"s":"MeCN-H2O","t":105.5,"v":-0.00007},{"s":"MeCN-H2O","t":106.5,"v":-0.00044},{"s":"MeCN-H2O","t":107.5,"v":-0.00028},{"s":"MeCN-H2O","t":108.5,"v":-0.00067},{"s":"MeCN-H2O","t":109.5,"v":-0.00015},{"s":"MeCN-H2O","t":110.5,"v":-0.00022},{"s":"MeCN-H2O","t":111.5,"v":-0.00054},{"s":"MeCN-H2O","t":112.5,"v":-0.00012},{"s":"MeCN-H2O","t":113.5,"v":-0.00038},{"s":"MeCN-H2O","t":114.5,"v":-0.00074},{"s":"MeCN-H2O","t":115.5,"v":-0.00019},{"s":"MeCN-H2O","t":116.5,"v":-0.00031},{"s":"MeCN-H2O","t":117.5,"v":-0.00051},{"s":"MeCN-H2O","t":118.5,"v":-0.0001},{"s":"MeCN-H2O","t":119.5,"v":-0.00061},{"s":"MeCN-H2O","t":120.5,"v":-0.00026},{"s":"MeCN-H2O","t":121.5,"v":-0.00043},{"s":"MeCN-H2O","t":122.5,"v":-0.00017},{"s":"MeCN-H2O","t":123.5,"v":-0.00086},{"s":"MeCN-H2O","t":124.5,"v":-0.00014},{"s":"MeCN-H2O","t":125.5,"v":-0.00033},{"s":"MeCN-H2O","t":126.5,"v":-0.00048},{"s":"MeCN-H2O","t":127.5,"v":-0.00011},{"s":"MeCN-H2O","t":128.5,"v":-0.00065},{"s":"MeCN-H2O","t":129.5,"v":-0.00022},{"s":"MeCN-H2O","t":130.5,"v":-0.00038},{"s":"MeCN-H2O","t":131.5,"v":-0.00009},{"s":"MeCN-H2O","t":132.5,"v":-0.00054},{"s":"MeCN-H2O","t":133.5,"v":-0.00028},{"s":"MeCN-H2O","t":134.5,"v":-0.00073},{"s":"MeCN-H2O","t":135.5,"v":-0.00016},{"s":"MeCN-H2O","t":136.5,"v":-0.00043},{"s":"MeCN-H2O","t":137.5,"v":-0.00021},{"s":"MeCN-H2O","t":138.5,"v":-0.0006},{"s":"MeCN-H2O","t":139.5,"v":-0.00013},{"s":"MeCN-H2O","t":140.5,"v":-0.00035},{"s":"MeCN-H2O","t":141.5,"v":-0.0008},{"s":"MeCN-H2O","t":142.5,"v":-0.00019},{"s":"MeCN-H2O","t":143.5,"v":-0.00025},{"s":"MeCN-H2O","t":144.5,"v":-0.00057},{"s":"MeCN-H2O","t":145.5,"v":-0.0001},{"s":"MeCN-H2O","t":146.5,"v":-0.00046},{"s":"MeCN-H2O","t":147.5,"v":-0.00031},{"s":"MeCN-H2O","t":148.5,"v":-0.00068},{"s":"MeCN-H2O","t":149.5,"v":-0.00017},{"s":"MeCN-H2O","t":150.5,"v":-0.00041},{"s":"MeCN-H2O","t":151.5,"v":-0.00014},{"s":"MeCN-H2O","t":152.5,"v":-0.00064},{"s":"MeCN-H2O","t":153.5,"v":-0.00022},{"s":"MeCN-H2O","t":154.5,"v":-0.0005},{"s":"MeCN-H2O","t":155.5,"v":-0.00013},{"s":"MeCN-H2O","t":156.5,"v":-0.00084},{"s":"MeCN-H2O","t":157.5,"v":-0.00027},{"s":"MeCN-H2O","t":158.5,"v":-0.0003},{"s":"MeCN-H2O","t":159.5,"v":-0.00054},{"s":"MeCN-H2O","t":160.5,"v":-0.00012},{"s":"MeCN-H2O","t":161.5,"v":-0.00062},{"s":"MeCN-H2O","t":162.5,"v":-0.00021},{"s":"MeCN-H2O","t":163.5,"v":-0.00038},{"s":"MeCN-H2O","t":164.5,"v":-0.00017},{"s":"MeCN-H2O","t":165.5,"v":-0.00078},{"s":"MeCN-H2O","t":166.5,"v":-0.00025},{"s":"MeCN-H2O","t":167.5,"v":-0.00046},{"s":"MeCN-H2O","t":168.5,"v":-0.00014},{"s":"MeCN-H2O","t":169.5,"v":-0.0006},{"s":"MeCN-H2O","t":170.5,"v":-0.00029},{"s":"MeCN-H2O","t":171.5,"v":-0.00067},{"s":"MeCN-H2O","t":172.5,"v":-0.0002}
],
"pointers":[
{"t":26.8,"v":0.00462,"t2":5.5,"v2":0.00348},
{"t":22.2,"v":0.00332,"t2":6.3,"v2":0.00239},
{"t":35.1,"v":0.0019,"t2":16.8,"v2":0.0012}
],
"labels":[
{"t":29.2,"v":0.00467,"label":"DCM"},
{"t":23.5,"v":0.00325,"label":"MeCN"},
{"t":36.8,"v":0.00185,"label":"MeCN-H₂O (9:1)"},
{"t":144,"v":0.00565,"label":"(a)"}
]
},
"encoding":{
"x":{"field":"t","type":"quantitative","scale":{"domain":[-20,179.2],"nice":false,"zero":false},
"axis":{"values":[0,50,100,150],"format":"d","title":"t / μs","domainColor":"#808080","domainWidth":2,"tickColor":"#555555","tickSize":5,"labelPadding":11,"labelFont":"Liberation Sans","labelFontWeight":"bold","labelFontSize":16,"labelColor":"black","labelFlush":false,"labelOverlap":false,"titleFont":"Liberation Sans","titleFontSize":16,"titleFontWeight":"bold","titleColor":"black","titleBaseline":"alphabetic","titleY":61}},
"y":{"field":"v","type":"quantitative","scale":{"domain":[-0.002,0.006],"nice":false,"zero":false},
"axis":{"values":[-0.002,0,0.002,0.004,0.006],"labelExpr":"(datum.value < 0 ? '-' : '') + replace(format(abs(datum.value), '.3f'), '.', ',')","domainColor":"black","domainWidth":1,"tickColor":"black","tickSize":6,"labelPadding":7,"labelFont":"Liberation Sans","labelFontWeight":"bold","labelFontSize":16,"labelColor":"black","labelFlush":false,"labelOverlap":false,"title":"OD","titleAngle":0,"titleX":-39,"titleY":135,"titleAlign":"center","titleBaseline":"middle","titleFont":"Liberation Sans","titleFontSize":16,"titleFontWeight":"bold","titleColor":"black"}}
},
"layer":[
{"data":{"name":"traces"},"mark":{"type":"line","color":"black","clip":true,"strokeJoin":"miter"},
"encoding":{"detail":{"field":"s","type":"nominal"},
"strokeWidth":{"field":"s","type":"nominal","scale":{"domain":["DCM","MeCN","MeCN-H2O"],"range":[2.4,1.7,1.7]},"legend":null}}},
{"data":{"name":"pointers"},"mark":{"type":"rule","color":"black","strokeWidth":1},
"encoding":{"x2":{"field":"t2"},"y2":{"field":"v2"}}},
{"data":{"name":"labels"},"mark":{"type":"text","align":"left","baseline":"middle","font":"Liberation Sans","fontWeight":"bold","fontSize":16,"color":"black"},
"encoding":{"text":{"field":"label"}}}
]
}
